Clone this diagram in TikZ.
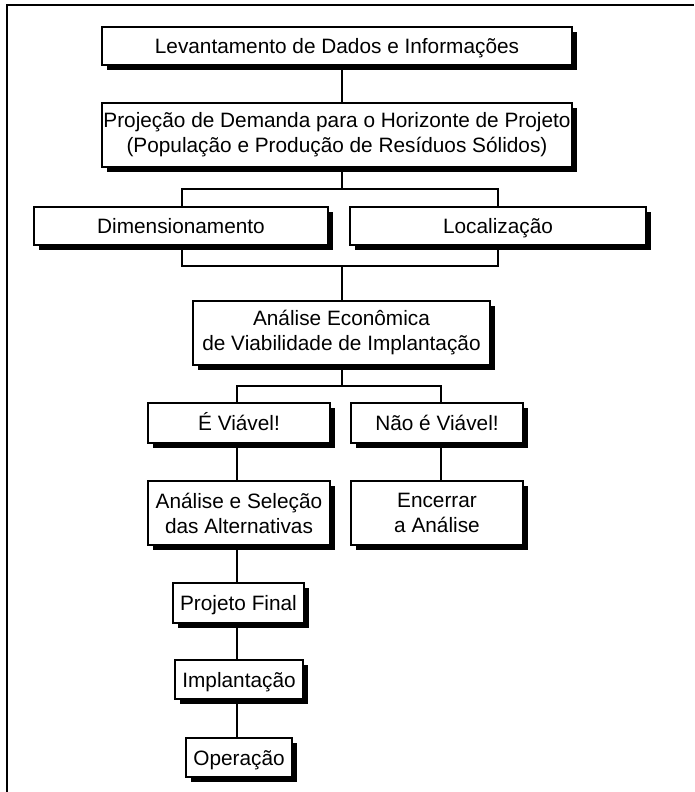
\documentclass[tikz,border=0pt]{standalone}
\usepackage{fontspec}
\setmainfont{Liberation Sans}
\usetikzlibrary{shadows}
\begin{document}
\begin{tikzpicture}[x=1pt,y=-1pt,
  box/.style={draw, line width=1.2pt, fill=white, inner sep=0pt, align=center,
    font=\fontsize{20.8}{25}\selectfont,
    drop shadow={shadow xshift=4.5pt, shadow yshift=-5pt, fill=black, opacity=1}},
  one/.style={text height=16pt, text depth=1pt},
  link/.style={line width=1.3pt}]
\useasboundingbox (0,0) rectangle (694,792);
% page frame (top and left rules)
\draw[line width=1.6pt] (694,5) -- (7,5) -- (7,792);

% boxes
\node[box, one, minimum width=470pt, minimum height=38pt] (lev) at (337,46) {Levantamento de Dados e Informações};
\node[box, minimum width=470pt, minimum height=64pt] (proj) at (337,135) {Projeção de Demanda para o Horizonte de Projeto\\(População e Produção de Resíduos Sólidos)};
\node[box, one, minimum width=294pt, minimum height=38pt] (dim) at (181,226) {Dimensionamento};
\node[box, one, minimum width=296pt, minimum height=38pt] (loc) at (498,226) {Localização};
\node[box, minimum width=297pt, minimum height=64pt] (eco) at (341.5,333) {Análise Econômica\\de Viabilidade de Implantação};
\node[box, one, minimum width=182pt, minimum height=40pt] (sim) at (239,423) {É Viável!};
\node[box, one, minimum width=172pt, minimum height=40pt] (nao) at (437,423) {Não é Viável!};
\node[box, minimum width=182pt, minimum height=64pt] (sel) at (239,513) {Análise e Seleção\\das Alternativas};
\node[box, minimum width=172pt, minimum height=64pt] (enc) at (437,513) {Encerrar\\a Análise};
\node[box, one, minimum width=131pt, minimum height=40pt] (fin) at (238.5,603) {Projeto Final};
\node[box, one, minimum width=128pt, minimum height=39pt] (imp) at (239,679.5) {Implantação};
\node[box, one, minimum width=106pt, minimum height=39pt] (ope) at (239,757.5) {Operação};

% connector columns and junctions
\coordinate (cx) at (342,0);
\coordinate (lx) at (182,0);
\coordinate (rx) at (498,0);
\coordinate (ax) at (237,0);
\coordinate (bx) at (441,0);
\coordinate (j1) at (342,189);
\coordinate (j2) at (342,266);
\coordinate (j3) at (342,386);

\draw[link] (cx |- lev.south) -- (cx |- proj.north);
\draw[link] (cx |- proj.south) -- (j1);
\draw[link] (lx |- dim.north) |- (rx |- j1) -- (rx |- loc.north);
\draw[link] (lx |- dim.south) |- (rx |- j2) -- (rx |- loc.south);
\draw[link] (j2) -- (cx |- eco.north);
\draw[link] (cx |- eco.south) -- (j3);
\draw[link] (ax |- sim.north) |- (bx |- j3) -- (bx |- nao.north);
\draw[link] (ax |- sim.south) -- (ax |- sel.north);
\draw[link] (bx |- nao.south) -- (bx |- enc.north);
\draw[link] (ax |- sel.south) -- (ax |- fin.north);
\draw[link] (ax |- fin.south) -- (ax |- imp.north);
\draw[link] (ax |- imp.south) -- (ax |- ope.north);
\end{tikzpicture}
\end{document}
